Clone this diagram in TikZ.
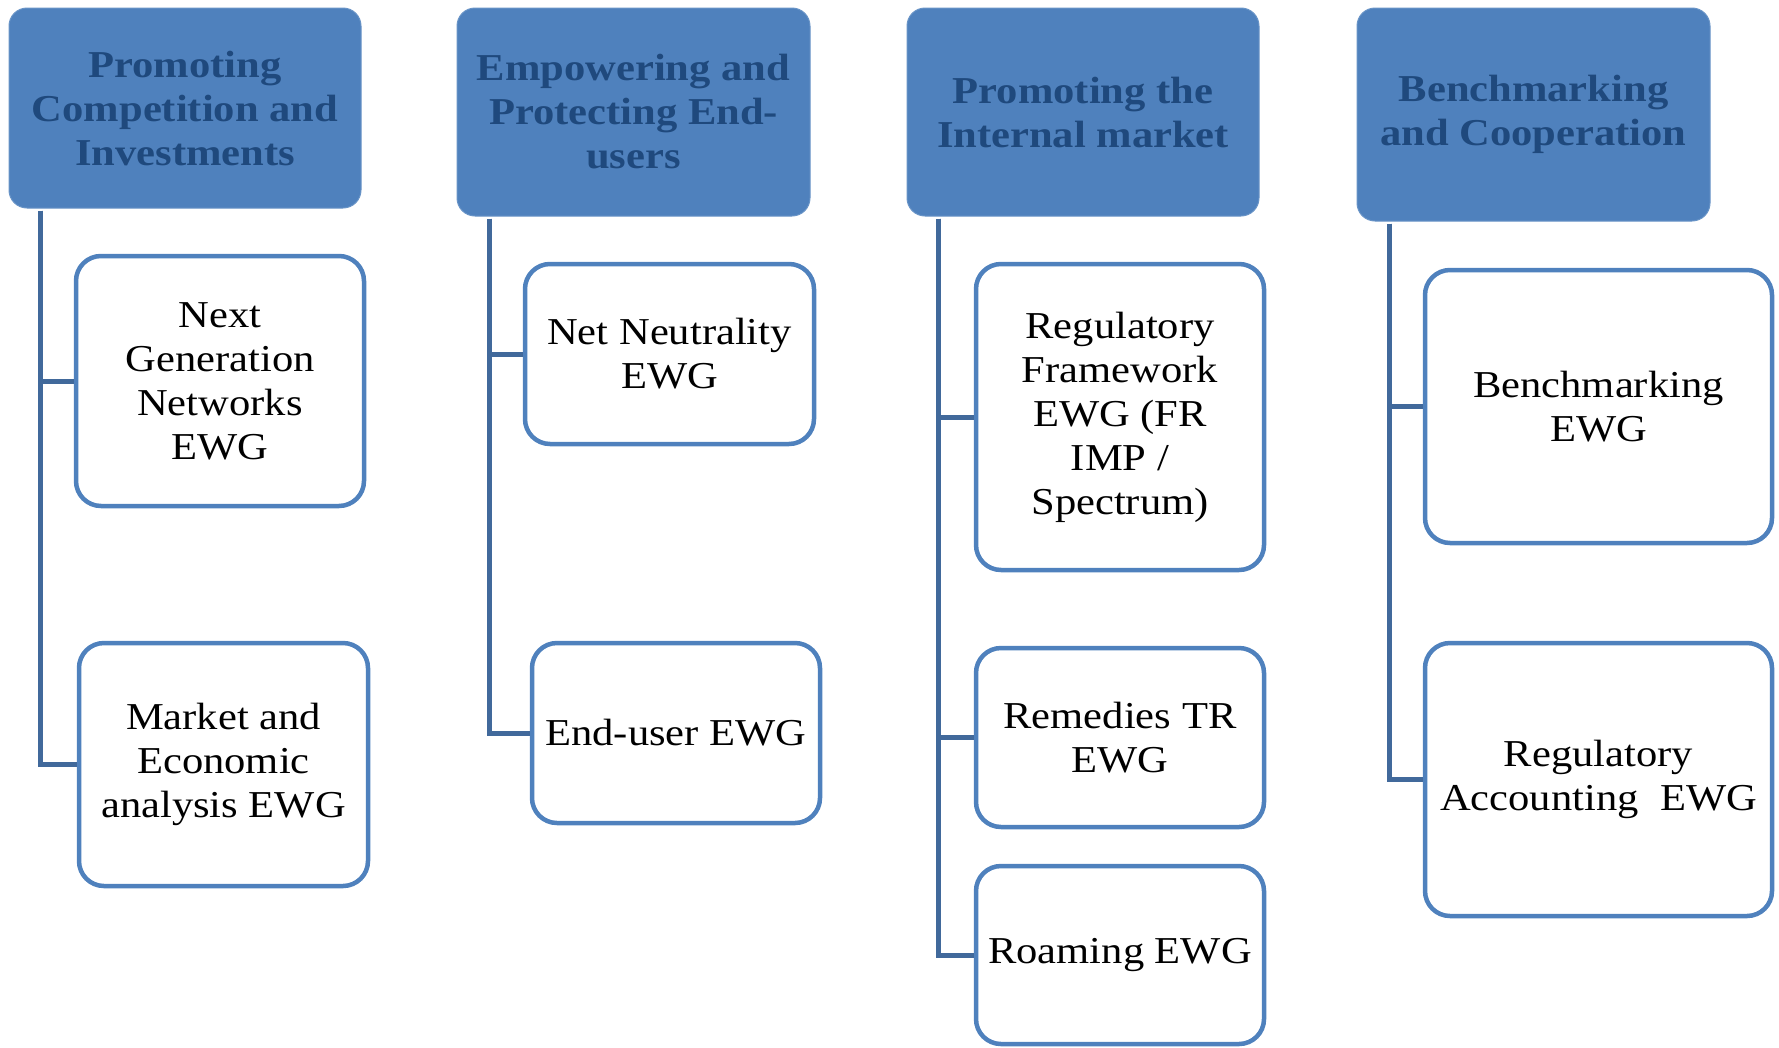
\documentclass[tikz,border=0pt]{standalone}
\usepackage{fontspec}
\setmainfont{Liberation Serif}[FakeStretch=1.12]
\definecolor{hdrfill}{HTML}{4F81BD}
\definecolor{hdrtext}{HTML}{1F497D}
\definecolor{boxline}{HTML}{4F81BD}
\definecolor{connline}{HTML}{41699B}
\tikzset{
  hdr/.style={rectangle, rounded corners=18pt, fill=hdrfill, draw=hdrfill!85!white, line width=1pt,
    text=hdrtext, font=\fontsize{38}{44}\selectfont\bfseries, align=center, inner sep=0pt,
    minimum width=#1},
  child/.style={rectangle, rounded corners=25pt, fill=white, draw=boxline, line width=4.5pt,
    text=black, font=\fontsize{38}{44}\selectfont, align=center, inner sep=0pt},
  conn/.style={draw=connline, line width=5pt}
}
\begin{document}
\begin{tikzpicture}[x=1pt,y=-1pt]
\useasboundingbox (0,0) rectangle (1779,1047);
% headers
\node[hdr=352pt, minimum height=200pt] (h1) at (185,108) {Promoting\\Competition and\\Investments};
\node[hdr=353pt, minimum height=208pt] (h2) at (633.5,112) {Empowering and\\Protecting End-\\users};
\node[hdr=352pt, minimum height=208pt] (h3) at (1083,112) {Promoting the\\Internal market};
\node[hdr=353pt, minimum height=213pt] (h4) at (1533.5,114.5) {Benchmarking\\and Cooperation};
% children
\node[child, minimum width=288pt, minimum height=250pt] (c11) at (220,381) {Next\\Generation\\Networks\\EWG};
\node[child, minimum width=289pt, minimum height=243pt] (c12) at (223.5,764.5) {Market and\\Economic\\analysis EWG};
\node[child, minimum width=289pt, minimum height=180pt] (c21) at (669.5,354) {Net Neutrality\\EWG};
\node[child, minimum width=288pt, minimum height=180pt] (c22) at (676,733) {End-user EWG};
\node[child, minimum width=288pt, minimum height=306pt] (c31) at (1120,417) {Regulatory\\Framework\\EWG (FR\\IMP /\\Spectrum)};
\node[child, minimum width=288pt, minimum height=179pt] (c32) at (1120,737.5) {Remedies TR\\EWG};
\node[child, minimum width=288pt, minimum height=178pt] (c33) at (1120,955) {Roaming EWG};
\node[child, minimum width=347pt, minimum height=273pt] (c41) at (1598.5,406.5) {Benchmarking\\EWG};
\node[child, minimum width=347pt, minimum height=273pt] (c42) at (1598.5,779.5) {Regulatory\\Accounting~ EWG};
% connectors
\draw[conn] ([xshift=32pt,yshift=-2pt]h1.south west) |- (c11.west);
\draw[conn] ([xshift=32pt,yshift=-2pt]h1.south west) |- (c12.west);
\draw[conn] ([xshift=33pt,yshift=-2pt]h2.south west) |- (c21.west);
\draw[conn] ([xshift=33pt,yshift=-2pt]h2.south west) |- (c22.west);
\draw[conn] ([xshift=32pt,yshift=-2pt]h3.south west) |- (c31.west);
\draw[conn] ([xshift=32pt,yshift=-2pt]h3.south west) |- (c32.west);
\draw[conn] ([xshift=32pt,yshift=-2pt]h3.south west) |- (c33.west);
\draw[conn] ([xshift=33pt,yshift=-2pt]h4.south west) |- (c41.west);
\draw[conn] ([xshift=33pt,yshift=-2pt]h4.south west) |- (c42.west);
\end{tikzpicture}
\end{document}
